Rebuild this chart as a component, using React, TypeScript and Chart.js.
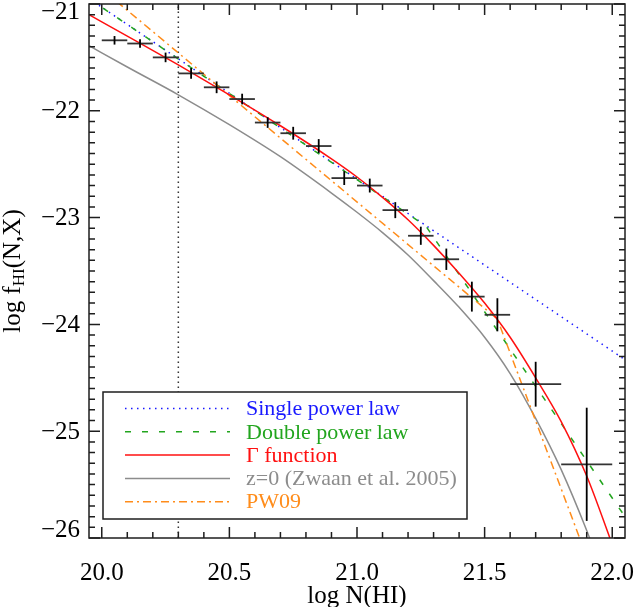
import { useEffect, useRef } from "react";
import { Chart, registerables } from "chart.js";

Chart.register(...registerables);

// ---------------- data ----------------
const xMin = 19.95;
const xMax = 22.05;
const yMin = -26;
const yMax = -21;

const xTickValues = [20.0, 20.5, 21.0, 21.5, 22.0];
const yTickValues = [-21, -22, -23, -24, -25, -26];

// measured f_HI(N,X) points
const binCentres = [20.05, 20.15, 20.25, 20.35, 20.45, 20.55, 20.65, 20.75, 20.85, 20.95, 21.05, 21.15, 21.25, 21.35, 21.45, 21.55, 21.7, 21.9];
const logF = [-21.34, -21.37, -21.50, -21.65, -21.78, -21.89, -22.11, -22.21, -22.33, -22.63, -22.70, -22.93, -23.17, -23.39, -23.74, -23.91, -24.56, -25.31];
const binHalfWidths = [0.05, 0.05, 0.05, 0.05, 0.05, 0.05, 0.05, 0.05, 0.05, 0.05, 0.05, 0.05, 0.05, 0.05, 0.05, 0.05, 0.1, 0.1];
const logFErr = [0.04, 0.04, 0.045, 0.05, 0.055, 0.05, 0.05, 0.06, 0.065, 0.065, 0.065, 0.075, 0.085, 0.10, 0.14, 0.155, 0.21, 0.53];

// single power law
const singleX = [19.95, 22.05];
const singleY = [-20.95, -24.33];

// double power law
const doubleX = [19.95, 21.27, 22.05];
const doubleY = [-20.95, -23.08, -25.80];

// Gamma function
const gammaX = [19.95, 20.1, 20.3, 20.5, 20.7, 20.9, 21.0, 21.1, 21.2, 21.3, 21.4, 21.5, 21.6, 21.7, 21.8, 21.9, 22.0];
const gammaY = [-21.10, -21.30, -21.57, -21.85, -22.14, -22.45, -22.62, -22.81, -23.02, -23.26, -23.52, -23.80, -24.12, -24.50, -24.91, -25.42, -26.06];

// z=0 (Zwaan et al. 2005)
const zwaanX = [19.95, 20.1, 20.3, 20.5, 20.7, 20.9, 21.0, 21.1, 21.2, 21.3, 21.4, 21.5, 21.6, 21.7, 21.8, 21.9, 21.95];
const zwaanY = [-21.39, -21.59, -21.85, -22.13, -22.43, -22.77, -22.95, -23.14, -23.35, -23.59, -23.84, -24.12, -24.46, -24.88, -25.36, -25.93, -26.25];

// PW09
const pw09X = [19.95, 21.55, 22.05];
const pw09Y = [-20.76, -23.95, -27.13];

// DLA threshold
const thresholdX = [20.3, 20.3];
const thresholdY = [yMin, yMax];

const legendLabels = ["Single power law", "Double power law", "\u0393 function", "z=0 (Zwaan et al. 2005)", "PW09"];

// ---------------- styling ----------------
const FONT = "'Liberation Serif', 'DejaVu Serif', serif";
const BLUE = "#1a1aff";
const GREEN = "#22a51e";
const RED = "#ff1010";
const GRAY = "#8c8c8c";
const ORANGE = "#ff8c1a";
const FRAME = "#1e1e1e";

const pts = (xs: number[], ys: number[]) => xs.map((x, i) => ({ x, y: ys[i] }));

const framePlugin = {
  id: "frameAndExtras",
  afterDatasetsDraw(chart: any) {
    const { ctx, chartArea, scales } = chart;
    const xs = scales.x;
    const ys = scales.y;
    const { left, right, top, bottom } = chartArea;

    // error bar crosses
    ctx.save();
    ctx.beginPath();
    ctx.rect(left, top, right - left, bottom - top);
    ctx.clip();
    ctx.lineWidth = 1.8;
    ctx.lineCap = "butt";
    binCentres.forEach((c, i) => {
      const py = ys.getPixelForValue(logF[i]);
      const px = xs.getPixelForValue(c);
      ctx.strokeStyle = "#333";
      ctx.beginPath();
      ctx.moveTo(xs.getPixelForValue(c - binHalfWidths[i]), py);
      ctx.lineTo(xs.getPixelForValue(c + binHalfWidths[i]), py);
      ctx.stroke();
      ctx.strokeStyle = "#000";
      ctx.beginPath();
      ctx.moveTo(px, ys.getPixelForValue(logF[i] + logFErr[i]));
      ctx.lineTo(px, ys.getPixelForValue(logF[i] - logFErr[i]));
      ctx.stroke();
    });
    ctx.restore();

    // legend
    ctx.save();
    const bx = 103, by = 392, bw = 364, bh = 127;
    ctx.fillStyle = "#fff";
    ctx.fillRect(bx, by, bw, bh);
    ctx.strokeStyle = FRAME;
    ctx.lineWidth = 1.5;
    ctx.strokeRect(bx, by, bw, bh);
    const ds = chart.data.datasets;
    ctx.font = `22px ${FONT}`;
    ctx.textBaseline = "middle";
    ctx.textAlign = "left";
    for (let i = 0; i < legendLabels.length; i++) {
      const d = ds[i];
      const ry = 408.5 + i * 23.3;
      ctx.strokeStyle = d.borderColor;
      ctx.lineWidth = 1.5;
      ctx.setLineDash(d.borderDash || []);
      ctx.beginPath();
      ctx.moveTo(125, ry);
      ctx.lineTo(230, ry);
      ctx.stroke();
      ctx.setLineDash([]);
      ctx.fillStyle = d.borderColor;
      ctx.fillText(legendLabels[i], 246, ry + 1);
    }
    ctx.restore();

    // frame + inward ticks
    ctx.save();
    ctx.strokeStyle = FRAME;
    ctx.lineWidth = 1.5;
    ctx.strokeRect(left, top, right - left, bottom - top);
    ctx.beginPath();
    for (let k = 0; k <= 20; k++) {
      const v = 20 + k * 0.1;
      const major = k % 5 === 0;
      const len = major ? 11 : 6;
      const px = xs.getPixelForValue(v);
      ctx.moveTo(px, bottom);
      ctx.lineTo(px, bottom - len);
      ctx.moveTo(px, top);
      ctx.lineTo(px, top + len);
    }
    for (let k = 0; k <= 50; k++) {
      const v = -26 + k * 0.1;
      const major = k % 10 === 0;
      const len = major ? 11 : 6;
      const py = ys.getPixelForValue(v);
      ctx.moveTo(left, py);
      ctx.lineTo(left + len, py);
      ctx.moveTo(right, py);
      ctx.lineTo(right - len, py);
    }
    ctx.stroke();
    ctx.restore();

    // y tick labels (end labels kept inside the frame height, as in the reference)
    ctx.save();
    ctx.fillStyle = "#000";
    ctx.font = `25px ${FONT}`;
    ctx.textAlign = "right";
    ctx.textBaseline = "middle";
    yTickValues.forEach((v) => {
      const py = ys.getPixelForValue(v);
      const cy = Math.min(Math.max(py + 1, top + 8), bottom - 8);
      ctx.fillText("\u2212" + Math.abs(v).toFixed(0), left - 9, cy);
    });
    ctx.restore();

    // axis titles
    ctx.save();
    ctx.fillStyle = "#000";
    ctx.textBaseline = "middle";
    ctx.font = `25px ${FONT}`;
    ctx.textAlign = "center";
    ctx.fillText("log N(HI)", (left + right) / 2, 596);

    const main1 = "log f";
    const sub = "HI";
    const main2 = "(N,X)";
    ctx.font = `25px ${FONT}`;
    const w1 = ctx.measureText(main1).width;
    const w3 = ctx.measureText(main2).width;
    ctx.font = `17px ${FONT}`;
    const w2 = ctx.measureText(sub).width;
    const total = w1 + w2 + w3;
    ctx.translate(13, (top + bottom) / 2);
    ctx.rotate(-Math.PI / 2);
    ctx.textAlign = "left";
    let cx = -total / 2;
    ctx.font = `25px ${FONT}`;
    ctx.fillText(main1, cx, 0);
    cx += w1;
    ctx.font = `17px ${FONT}`;
    ctx.fillText(sub, cx, 7);
    cx += w2;
    ctx.font = `25px ${FONT}`;
    ctx.fillText(main2, cx, 0);
    ctx.restore();
  },
};

export default function App() {
  const ref = useRef<HTMLCanvasElement>(null);

  useEffect(() => {
    if (!ref.current) return;
    const lineDs = (label: string, data: any[], color: string, dash: number[], order: number, smooth: boolean) => ({
      label,
      data,
      borderColor: color,
      backgroundColor: color,
      borderWidth: 1.5,
      borderDash: dash,
      showLine: true,
      pointRadius: 0,
      pointHoverRadius: 0,
      tension: 0,
      cubicInterpolationMode: smooth ? "monotone" : "default",
      clip: 0,
      order,
    });

    const chart = new Chart(ref.current, {
      type: "scatter",
      data: {
        datasets: [
          lineDs("Single power law", pts(singleX, singleY), BLUE, [1.5, 4.5], 5, false),
          lineDs("Double power law", pts(doubleX, doubleY), GREEN, [6, 11], 4, false),
          lineDs("\u0393 function", pts(gammaX, gammaY), RED, [], 2, true),
          lineDs("z=0 (Zwaan et al. 2005)", pts(zwaanX, zwaanY), GRAY, [], 6, true),
          lineDs("PW09", pts(pw09X, pw09Y), ORANGE, [8, 4, 2, 4], 3, false),
          lineDs("threshold", pts(thresholdX, thresholdY), "#333333", [1.5, 3.5], 7, false),
          {
            label: "data",
            data: pts(binCentres, logF),
            pointRadius: 0,
            showLine: false,
            order: 1,
          } as any,
        ] as any,
      },
      options: {
        responsive: false,
        animation: false,
        events: [],
        layout: { padding: { left: 0, right: 10, top: 4, bottom: 0 } },
        plugins: { legend: { display: false }, tooltip: { enabled: false } },
        scales: {
          x: {
            type: "linear",
            min: xMin,
            max: xMax,
            grid: { display: false, drawTicks: false },
            border: { display: false },
            afterBuildTicks: (s: any) => {
              s.ticks = xTickValues.map((v) => ({ value: v }));
            },
            afterFit: (s: any) => {
              s.height = 69;
              s.paddingLeft = 0;
              s.paddingRight = 0;
            },
            ticks: {
              color: "#000",
              font: { family: FONT, size: 25 },
              padding: 20,
              maxRotation: 0,
              autoSkip: false,
              callback: (v: any) => Number(v).toFixed(1),
            },
          },
          y: {
            type: "linear",
            min: yMin,
            max: yMax,
            grid: { display: false, drawTicks: false },
            border: { display: false },
            afterBuildTicks: (s: any) => {
              s.ticks = yTickValues.map((v) => ({ value: v }));
            },
            afterFit: (s: any) => {
              s.width = 89;
              s.paddingTop = 0;
              s.paddingBottom = 0;
            },
            ticks: { display: false },
          },
        },
      } as any,
      plugins: [framePlugin],
    });
    return () => chart.destroy();
  }, []);

  return (
    <div style={{ position: "absolute", left: 0, top: 0, width: 635, height: 607, background: "#fff" }}>
      <canvas ref={ref} width={635} height={607} style={{ display: "block", width: 635, height: 607 }} />
    </div>
  );
}
